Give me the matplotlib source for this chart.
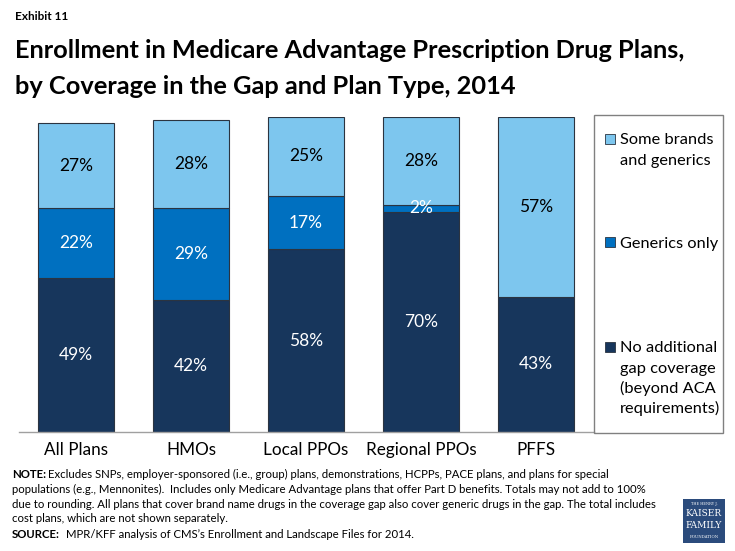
import matplotlib
matplotlib.use('Agg')
from matplotlib import pyplot as plt
from matplotlib.patches import Rectangle

plt.rcParams['font.family'] = ['Lato', 'DejaVu Sans']

# data
plans = ['All Plans', 'HMOs', 'Local PPOs', 'Regional PPOs', 'PFFS']
no_gap = [49, 42, 58, 70, 43]
generics_only = [22, 29, 17, 2, 0]
brands_generics = [27, 28, 25, 28, 57]
series_names = ['Some brands\nand generics', 'Generics only',
                'No additional\ngap coverage\n(beyond ACA\nrequirements)']

c_light = '#7DC6EE'
c_mid = '#0070C0'
c_dark = '#17365C'
edge = '#2B3440'

W, H = 735, 551
fig = plt.figure(figsize=(W / 100, H / 100), dpi=100)

ax = fig.add_axes([18.5 / W, (H - 432) / H, 575 / W, 315 / H])
x = range(len(plans))
bw = 0.665
ax.bar(x, no_gap, bw, color=c_dark, edgecolor=edge, linewidth=0.8)
ax.bar(x, generics_only, bw, bottom=no_gap, color=c_mid, edgecolor=edge, linewidth=0.8)
bot2 = [a + b for a, b in zip(no_gap, generics_only)]
ax.bar(x, brands_generics, bw, bottom=bot2, color=c_light, edgecolor=edge, linewidth=0.8)

for i in x:
    ax.text(i, no_gap[i] / 2, '%d%%' % no_gap[i], ha='center', va='center',
            color='white', fontsize=12.5)
    if generics_only[i] > 0:
        ax.text(i, no_gap[i] + generics_only[i] / 2, '%d%%' % generics_only[i],
                ha='center', va='center', color='white', fontsize=12.5)
    ax.text(i, bot2[i] + brands_generics[i] / 2, '%d%%' % brands_generics[i],
            ha='center', va='center', color='black', fontsize=12.5)

ax.set_xlim(-0.5, 4.5)
ax.set_ylim(0, 100)
ax.set_xticks(list(x))
ax.set_xticklabels(plans, fontsize=12.3)
ax.tick_params(axis='x', length=0, pad=7)
ax.set_yticks([])
for s in ['top', 'right', 'left']:
    ax.spines[s].set_visible(False)
ax.spines['bottom'].set_color('#A0A0A0')
ax.spines['bottom'].set_linewidth(1)

# titles
fig.text(15 / W, 1 - 17 / H, 'Exhibit 11', fontsize=8.5, fontweight='bold', va='center')
fig.text(15 / W, 1 - 51 / H, 'Enrollment in Medicare Advantage Prescription Drug Plans,',
         fontsize=18.3, fontweight='bold', va='center')
fig.text(15 / W, 1 - 87 / H, 'by Coverage in the Gap and Plan Type, 2014',
         fontsize=18.3, fontweight='bold', va='center')

# legend box
fig.patches.append(Rectangle((594 / W, 1 - 433 / H), 129 / W, 318 / H,
                             transform=fig.transFigure, fill=False,
                             edgecolor='#808080', linewidth=1))
leg_y = [139, 242, 347]
leg_c = [c_light, c_mid, c_dark]
for name, yy, cc in zip(series_names, leg_y, leg_c):
    fig.patches.append(Rectangle((604.5 / W, 1 - (yy + 5) / H), 10 / W, 10 / H,
                                 transform=fig.transFigure, facecolor=cc,
                                 edgecolor=edge, linewidth=0.6))
    for k, line in enumerate(name.split('\n')):
        fig.text(619.5 / W, 1 - (yy + 20 * k) / H, line, fontsize=11.8,
                 va='center_baseline')

# notes
note_lines = [
    'Excludes SNPs, employer-sponsored (i.e., group) plans, demonstrations, HCPPs, PACE plans, and plans for special',
    'populations (e.g., Mennonites).  Includes only Medicare Advantage plans that offer Part D benefits. Totals may not add to 100%',
    'due to rounding. All plans that cover brand name drugs in the coverage gap also cover generic drugs in the gap. The total includes',
    'cost plans, which are not shown separately.',
]
fs_n = 8.2
fig.text(12 / W, 1 - 474 / H, 'NOTE:', fontsize=fs_n, fontweight='bold', va='center')
fig.text(48 / W, 1 - 474 / H, note_lines[0], fontsize=fs_n, va='center')
for k, line in enumerate(note_lines[1:]):
    fig.text(12 / W, 1 - (489 + 15 * k) / H, line, fontsize=fs_n, va='center')
fig.text(12 / W, 1 - 534 / H, 'SOURCE:', fontsize=fs_n, fontweight='bold', va='center')
fig.text(66 / W, 1 - 534 / H, 'MPR/KFF analysis of CMS\u2019s Enrollment and Landscape Files for 2014.',
         fontsize=fs_n, va='center')

# logo
fig.patches.append(Rectangle((683 / W, 1 - 543 / H), 42 / W, 44 / H,
                             transform=fig.transFigure, facecolor='#2B4B7C',
                             edgecolor='none'))
fig.text(704 / W, 1 - 504 / H, 'THE HENRY J.', fontsize=2.6, color='white',
         ha='center', va='center', family='DejaVu Serif')
fig.text(704 / W, 1 - 514 / H, 'KAISER', fontsize=6.5, color='white',
         ha='center', va='center', family='DejaVu Serif')
fig.text(704 / W, 1 - 526 / H, 'FAMILY', fontsize=6.5, color='white',
         ha='center', va='center', family='DejaVu Serif')
fig.text(704 / W, 1 - 537 / H, 'FOUNDATION', fontsize=2.8, color='white',
         ha='center', va='center', family='DejaVu Serif')

fig.savefig('out.png', dpi=100)
